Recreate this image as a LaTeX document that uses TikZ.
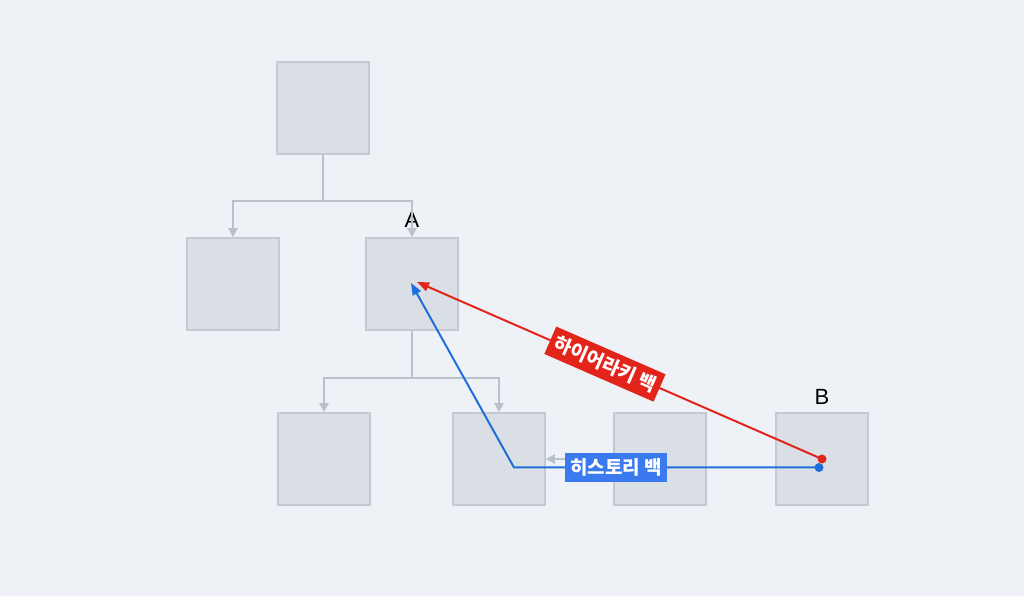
\documentclass[tikz,border=0pt]{standalone}
\usepackage{fontspec}
\setmainfont{Liberation Sans}
\newfontfamily\kr{Noto Sans CJK KR}
\usetikzlibrary{arrows.meta}
\definecolor{bgc}{HTML}{EEF2F7}
\definecolor{boxfill}{HTML}{DADFE5}
\definecolor{boxline}{HTML}{C3CAD3}
\definecolor{conn}{HTML}{B9C1CB}
\definecolor{redc}{HTML}{E3241B}
\definecolor{bluec}{HTML}{1E6FD9}
\definecolor{bluefill}{HTML}{3A79EE}
\tikzset{
  blk/.style={draw=boxline, fill=boxfill, line width=1.5pt, minimum width=92pt, minimum height=92pt, inner sep=0pt},
  tree/.style={draw=conn, line width=2pt, -{Triangle[length=9pt,width=9pt]}},
  treeline/.style={draw=conn, line width=2pt},
  redarrow/.style={draw=redc, line width=2pt, -{Triangle[length=12pt,width=9pt]}},
  bluearrow/.style={draw=bluec, line width=2pt, -{Triangle[length=12pt,width=9pt]}},
  tag/.style={font=\kr\bfseries\fontsize{19}{19}\selectfont, text=white, inner xsep=5pt, inner ysep=6pt},
  lbl/.style={font=\fontsize{22}{22}\selectfont, text=black},
  dot/.style={circle, inner sep=0pt, minimum size=9pt}
}
\begin{document}
\begin{tikzpicture}[x=1pt,y=1pt]
\fill[bgc] (0,0) rectangle (1024,596);
\useasboundingbox (0,0) rectangle (1024,596);
% boxes
\node[blk] (top) at (323,488) {};
\node[blk] (l2) at (233,312) {};
\node[blk] (a) at (412,312) {};
\node[blk] (c1) at (324,137) {};
\node[blk] (c2) at (499,137) {};
\node[blk] (c3) at (660,137) {};
\node[blk] (b) at (822,137) {};
% labels
\node[lbl] (la) at (412,376) {A};
\node[lbl] (lb) at (822,199) {B};
% tree connectors
\coordinate (j1) at (323,395);
\coordinate (j2) at (412,218);
\draw[treeline] (top.south) -- (j1);
\draw[tree] (j1) -| (l2.north);
\draw[tree] (j1) -| (a.north);
\draw[treeline] (a.south) -- (j2);
\draw[tree] (j2) -| (c1.north);
\draw[tree] (j2) -| (c2.north);
\draw[tree] (c3.west) -- (c2.east);
% dots and tips
\coordinate (rd) at (822,137);
\coordinate (bd) at (819,128.5);
\coordinate (rt) at (417,314);
\coordinate (bt) at (411,313);
\coordinate (bc) at (514,128.5);
% red hierarchy back
\draw[redarrow] (rd) -- node[pos=0.536, sloped, tag, fill=redc] (rl) {하이어라키 백} (rt);
% blue history back
\draw[bluearrow] (bd) -- (bc) -- (bt);
\node[tag, fill=bluefill] (bl) at (616,128.5) {히스토리 백};
\node[dot, fill=redc] (rdot) at (rd) {};
\node[dot, fill=bluec] (bdot) at (bd) {};
\end{tikzpicture}
\end{document}
